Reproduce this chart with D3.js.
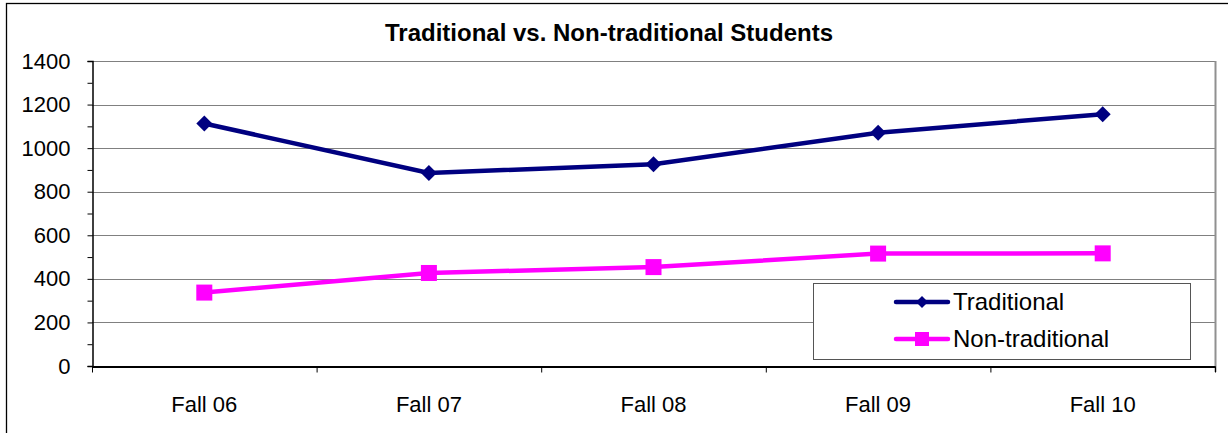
<!DOCTYPE html>
<html>
<head>
<meta charset="utf-8">
<script src="https://cdn.jsdelivr.net/npm/d3@7.9.0/dist/d3.min.js"></script>
<style>
  body { margin: 0; background: #fff; }
  svg text { font-family: "Liberation Sans", Arial, sans-serif; fill: #000; }
</style>
</head>
<body>
<svg width="1228" height="433"></svg>
<script>
// data
const terms = ['Fall 06', 'Fall 07', 'Fall 08', 'Fall 09', 'Fall 10'];
const traditional = [1113, 886, 926, 1071, 1156];
const nonTraditional = [337, 427, 454, 516, 517];
const yTicks = [0, 200, 400, 600, 800, 1000, 1200, 1400];

const svg = d3.select('svg');
const plotLeft = 92, plotRight = 1215, plotTop = 61, plotBottom = 366;

// outer chart border
svg.append('rect')
  .attr('x', 6.5).attr('y', 3.5)
  .attr('width', 1240).attr('height', 450)
  .attr('fill', 'none').attr('stroke', '#000').attr('stroke-width', 1.3);

svg.append('text')
  .attr('x', 609).attr('y', 41)
  .attr('text-anchor', 'middle')
  .attr('font-weight', 'bold')
  .attr('font-size', 24)
  .text('Traditional vs. Non-traditional Students');

let x = d3.scaleBand().domain(terms).range([plotLeft, plotRight]);
let y = d3.scaleLinear().domain([0, 1400]).range([plotBottom, plotTop]);

// gridlines
svg.append('g')
  .selectAll('line')
  .data(yTicks.filter(d => d > 0))
  .join('line')
  .attr('x1', plotLeft).attr('x2', plotRight)
  .attr('y1', d => Math.round(y(d)) + 0.5).attr('y2', d => Math.round(y(d)) + 0.5)
  .attr('stroke', '#808080').attr('stroke-width', 1.2);

// right border of plot area
svg.append('line')
  .attr('x1', plotRight + 0.5).attr('x2', plotRight + 0.5)
  .attr('y1', plotTop).attr('y2', plotBottom + 6)
  .attr('stroke', '#909090').attr('stroke-width', 2);

// y axis, major + minor ticks
let yAxis = svg.append('g')
  .attr('transform', `translate(${plotLeft + 0.5},0)`)
  .call(d3.axisLeft(y).tickValues(yTicks).tickSize(5).tickPadding(17).tickFormat(d3.format('d')));
svg.append('g')
  .attr('transform', `translate(${plotLeft + 0.5},0)`)
  .call(d3.axisLeft(y).tickValues(d3.range(100, 1400, 200)).tickSize(5).tickFormat(''))
  .select('.domain').remove();
yAxis.selectAll('text').attr('font-size', 22).attr('font-family', '"Liberation Sans", Arial, sans-serif');
yAxis.select('.domain').attr('stroke-width', 1.5);

// x axis, ticks at band edges
let edges = d3.scaleLinear().domain([0, terms.length]).range([plotLeft, plotRight]);
let xAxis = svg.append('g')
  .attr('transform', `translate(0,${plotBottom + 0.5})`)
  .call(d3.axisBottom(edges).tickValues(d3.range(0, terms.length + 1)).tickSize(6).tickFormat('').tickSizeOuter(0));
xAxis.select('.domain').attr('stroke-width', 1.8);

svg.append('g')
  .selectAll('text')
  .data(terms)
  .join('text')
  .attr('x', d => x(d) + x.bandwidth() / 2)
  .attr('y', 412)
  .attr('text-anchor', 'middle')
  .attr('font-size', 22)
  .text(d => d);

let line = d3.line().x((d, i) => x(terms[i]) + x.bandwidth() / 2).y(d => y(d));

const series = [
  { name: 'Traditional', values: traditional, color: '#000080', shape: 'diamond' },
  { name: 'Non-traditional', values: nonTraditional, color: '#FF00FF', shape: 'square' }
];

function marker(g, shape, color) {
  if (shape === 'diamond') {
    g.append('path').attr('d', 'M0,-8L8,0L0,8L-8,0Z').attr('fill', color);
  } else {
    g.append('rect').attr('x', -8).attr('y', -8).attr('width', 16).attr('height', 16).attr('fill', color);
  }
}

series.forEach(s => {
  svg.append('path')
    .attr('d', line(s.values))
    .attr('fill', 'none')
    .attr('stroke', s.color)
    .attr('stroke-width', 4.5);
  s.values.forEach((v, i) => {
    let g = svg.append('g').attr('transform', `translate(${x(terms[i]) + x.bandwidth() / 2},${y(v)})`);
    marker(g, s.shape, s.color);
  });
});

// legend
let legend = svg.append('g');
legend.append('rect')
  .attr('x', 813.5).attr('y', 283.5).attr('width', 377).attr('height', 76)
  .attr('fill', '#fff').attr('stroke', '#555').attr('stroke-width', 1);
series.forEach((s, i) => {
  let ly = 302 + i * 37;
  legend.append('line')
    .attr('x1', 896).attr('x2', 948).attr('y1', ly).attr('y2', ly)
    .attr('stroke', s.color).attr('stroke-width', 4.5).attr('stroke-linecap', 'round');
  let g = legend.append('g').attr('transform', `translate(922,${ly})`);
  if (s.shape === 'diamond') {
    g.append('path').attr('d', 'M0,-6L6,0L0,6L-6,0Z').attr('fill', s.color);
  } else {
    g.append('rect').attr('x', -7).attr('y', -7).attr('width', 14).attr('height', 14).attr('fill', s.color);
  }
  legend.append('text')
    .attr('x', 953).attr('y', ly + 8)
    .attr('font-size', 24)
    .text(s.name);
});
</script>
</body>
</html>
